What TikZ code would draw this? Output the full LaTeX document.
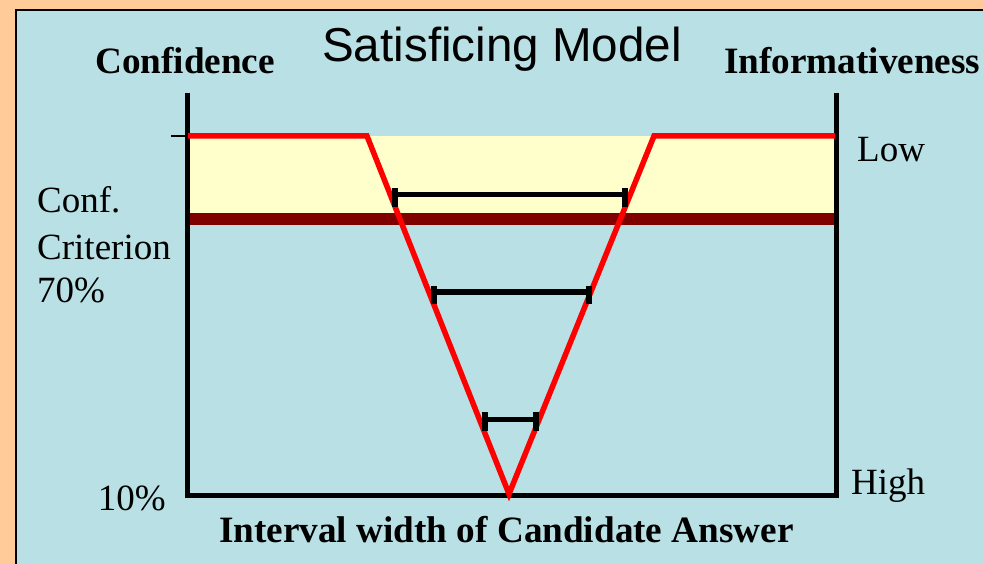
\documentclass[tikz,border=0pt]{standalone}
\usepackage{fontspec}
\setmainfont{Liberation Serif}
\newfontfamily\arialfont{Liberation Sans}
\definecolor{peach}{RGB}{255,204,153}
\definecolor{panel}{RGB}{185,224,228}
\definecolor{paleyellow}{RGB}{255,255,204}
\definecolor{darkred}{RGB}{128,0,0}
\begin{document}
\begin{tikzpicture}[x=1pt,y=-1pt,
  lbl/.style={inner sep=0pt,font=\fontsize{37}{40}\selectfont},
  boldlbl/.style={lbl,font=\fontsize{37.2}{40}\selectfont\bfseries},
  axisline/.style={line width=5pt},
  vline/.style={red,line width=5.5pt,line join=miter},
  interval/.style={line width=5pt},
  endbar/.style={line width=6pt}]
\useasboundingbox (0,0) rectangle (983,564);
\fill[peach] (0,0) rectangle (983,564);
\fill[panel] (16,10) rectangle (990,570);
\draw[line width=2pt] (16,575) -- (16,10) -- (990,10);
% band
\fill[paleyellow] (188,136) rectangle (835,213);
\fill[darkred] (188,213) rectangle (835,225);
% axes
\coordinate (ltop) at (187.5,93);
\coordinate (lbot) at (187.5,495);
\coordinate (rtop) at (836,93);
\coordinate (rbot) at (836,495);
\draw[axisline,line join=miter] (ltop) -- (lbot) -- (rbot) -- (rtop);
\coordinate (tickl) at (171,136);
\coordinate (tickr) at (187,136);
\draw[line width=1.5pt] (tickl) -- (tickr);
% V curve
\coordinate (v0) at (188,136);
\coordinate (v1) at (367,136);
\coordinate (v2) at (509,494);
\coordinate (v3) at (654,136);
\coordinate (v4) at (835,136);
\draw[vline] (v0) -- (v1) -- (v2) -- (v3) -- (v4);
% intervals
\coordinate (a1) at (395,195);
\coordinate (b1) at (624.5,195);
\coordinate (a2) at (433.5,292);
\coordinate (b2) at (588.5,292);
\coordinate (a3) at (484.5,419);
\coordinate (b3) at (536,419);
\draw[interval] (a1) -- (b1);
\draw[interval] (a2) -- (b2);
\draw[interval] (a3) -- (b3);
\draw[endbar] ([yshift=-12pt]a1) -- ([yshift=7pt]a1);
\draw[endbar] ([yshift=-12pt]b1) -- ([yshift=7pt]b1);
\draw[endbar] ([yshift=-12pt]a2) -- ([yshift=6pt]a2);
\draw[endbar] ([yshift=-12pt]b2) -- ([yshift=6pt]b2);
\draw[endbar] ([yshift=-12pt]a3) -- ([yshift=7pt]a3);
\draw[endbar] ([yshift=-12pt]b3) -- ([yshift=7pt]b3);
% texts
\node[inner sep=0pt,anchor=base west,font=\arialfont\fontsize{47.6}{50}\selectfont] (title) at (322,62) {Satisficing Model};
\node[boldlbl,anchor=base west] (conf) at (95,74) {Confidence};
\node[boldlbl,anchor=base west] (inf) at (724,74) {Informativeness};
\node[lbl,anchor=base west] (c1) at (37,213) {Conf.};
\node[lbl,anchor=base west] (c2) at (37,260) {Criterion};
\node[lbl,anchor=base west] (c3) at (37,302) {70\%};
\node[lbl,anchor=base east] (ten) at (166,510) {10\%};
\node[lbl,anchor=base west] (low) at (857,162) {Low};
\node[lbl,anchor=base west] (high) at (851,494) {High};
\node[boldlbl,anchor=base west] (xlab) at (219,542) {Interval width of Candidate Answer};
\end{tikzpicture}
\end{document}
